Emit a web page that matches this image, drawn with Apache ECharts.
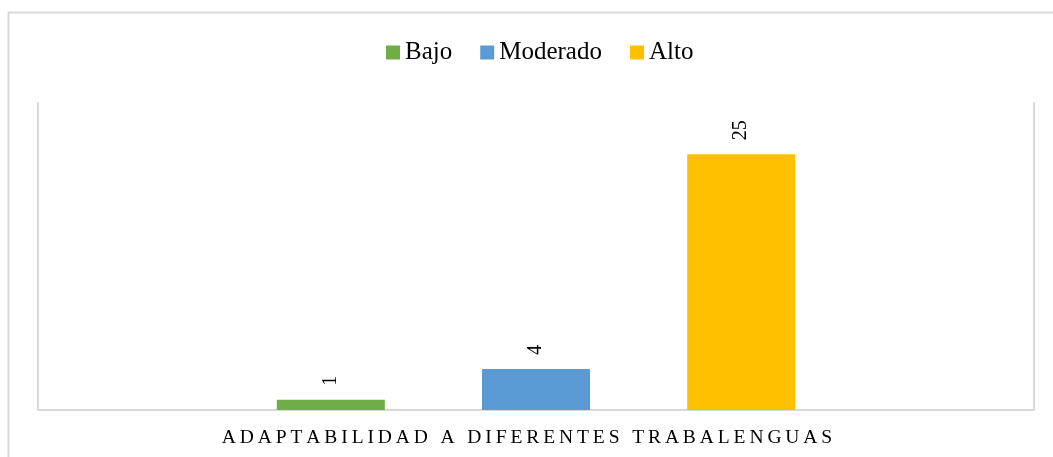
<!DOCTYPE html>
<html>
<head>
<meta charset="utf-8">
<script src="https://cdn.jsdelivr.net/npm/echarts@6/dist/echarts.min.js"></script>
<style>
  html, body { margin: 0; padding: 0; background: #fff; }
  #chart { width: 1053px; height: 457px; }
</style>
</head>
<body>
<div id="chart"></div>
<script>
const categories = ['ADAPTABILIDAD A DIFERENTES TRABALENGUAS'];
const seriesNames = ['Bajo', 'Moderado', 'Alto'];
const bajo = [1];
const moderado = [4];
const alto = [25];
const colors = ['#70ad47', '#5b9bd5', '#ffc000'];

const serif = '"Liberation Serif", "Times New Roman", serif';
const lineColor = '#d9d9d9';

// spread the letters a bit, like the wide character spacing of the original
const spaced = s => s.split('').join('\u2009');

const chart = echarts.init(document.getElementById('chart'));

const makeSeries = (name, data, color) => ({
  name: name,
  type: 'bar',
  data: data,
  barWidth: 108,
  barGap: '90%',
  itemStyle: { color: color },
  label: {
    show: true,
    position: 'top',
    rotate: 90,
    align: 'left',
    verticalAlign: 'middle',
    distance: 14,
    fontFamily: serif,
    fontSize: 20,
    color: '#000',
  },
});

chart.setOption({
  animation: false,
  color: colors,
  graphic: [
    {
      type: 'rect',
      shape: { x: 8.5, y: 12.5, width: 1060, height: 470 },
      style: { fill: 'none', stroke: lineColor, lineWidth: 2 },
      silent: true,
    },
  ],
  legend: {
    top: 40,
    left: 386,
    icon: 'rect',
    padding: 0,
    itemWidth: 14,
    itemHeight: 14,
    itemGap: 28,
    textStyle: { fontFamily: serif, fontSize: 25, color: '#000' },
    data: seriesNames,
  },
  grid: {
    left: 38,
    right: 19,
    top: 103,
    bottom: 47,
  },
  xAxis: {
    type: 'category',
    data: categories,
    axisLine: { lineStyle: { color: lineColor, width: 2 } },
    axisTick: { show: false },
    axisLabel: {
      margin: 18,
      fontFamily: serif,
      fontSize: 19.5,
      color: '#000',
      padding: [0, 18, 0, 0],
      formatter: v => spaced(v),
    },
  },
  yAxis: [
    {
      type: 'value',
      min: 0,
      max: 30,
      axisLine: { show: true, lineStyle: { color: lineColor, width: 2 } },
      axisLabel: { show: false },
      axisTick: { show: false },
      splitLine: { show: false },
    },
    {
      type: 'value',
      min: 0,
      max: 30,
      position: 'right',
      axisLine: { show: true, lineStyle: { color: lineColor, width: 2 } },
      axisLabel: { show: false },
      axisTick: { show: false },
      splitLine: { show: false },
    },
  ],
  series: [
    makeSeries(seriesNames[0], bajo, colors[0]),
    makeSeries(seriesNames[1], moderado, colors[1]),
    makeSeries(seriesNames[2], alto, colors[2]),
  ],
});
</script>
</body>
</html>
